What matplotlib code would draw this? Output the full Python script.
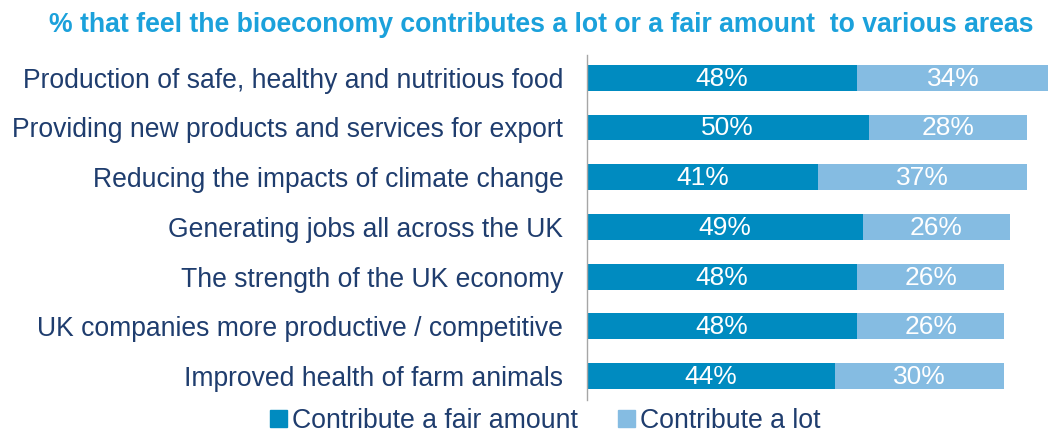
import matplotlib.pyplot as plt
from matplotlib.patches import Patch

plt.rcParams['font.family'] = ['Liberation Sans', 'DejaVu Sans']

# data
areas = ["Production of safe, healthy and nutritious food",
         "Providing new products and services for export",
         "Reducing the impacts of climate change",
         "Generating jobs all across the UK",
         "The strength of the UK economy",
         "UK companies more productive / competitive",
         "Improved health of farm animals"]
fair_amount = [48, 50, 41, 49, 48, 48, 44]
a_lot = [34, 28, 37, 26, 26, 26, 30]

dark = '#008BC0'
light = '#85BCE2'
navy = '#1F3D6E'

fig = plt.figure(figsize=(10.48, 4.32), dpi=100)
ax = fig.add_axes([0.560, 0.074, 0.440, 0.799])

y = range(len(areas))
b1 = ax.barh(y, fair_amount, height=0.52, color=dark)
b2 = ax.barh(y, a_lot, left=fair_amount, height=0.52, color=light)

# value labels in the middle of each segment
for vals, lefts in [(fair_amount, [0] * len(areas)), (a_lot, fair_amount)]:
    for i, (v, l) in enumerate(zip(vals, lefts)):
        ax.text(l + v / 2, i + 0.02, f"{v}%", ha='center', va='center',
                color='white', fontsize=19)

ax.set_xlim(0, 81.8)
ax.set_ylim(6.48, -0.46)
ax.set_yticks(list(y))
ax.set_yticklabels(areas, fontsize=19.1, color=navy)
ax.tick_params(axis='y', length=0, pad=17)
ax.set_xticks([])
for s in ['top', 'right', 'bottom']:
    ax.spines[s].set_visible(False)
ax.spines['left'].set_color('#A6A6A6')
ax.spines['left'].set_linewidth(1)

fig.text(0.516, 0.942, "% that feel the bioeconomy contributes a lot or a fair amount  to various areas",
         ha='center', va='center', fontsize=19.2, fontweight='bold', color='#1BA1DB')

handles = [Patch(color=dark, label='Contribute a fair amount'),
           Patch(color=light, label='Contribute a lot')]
fig.legend(handles=handles, loc='center', bbox_to_anchor=(0.5205, 0.026), ncol=2,
           frameon=False, fontsize=19.2, handlelength=0.62, handleheight=0.62,
           handletextpad=0.2, columnspacing=1.5, labelcolor=navy)

fig.savefig('out.png', dpi=100)
